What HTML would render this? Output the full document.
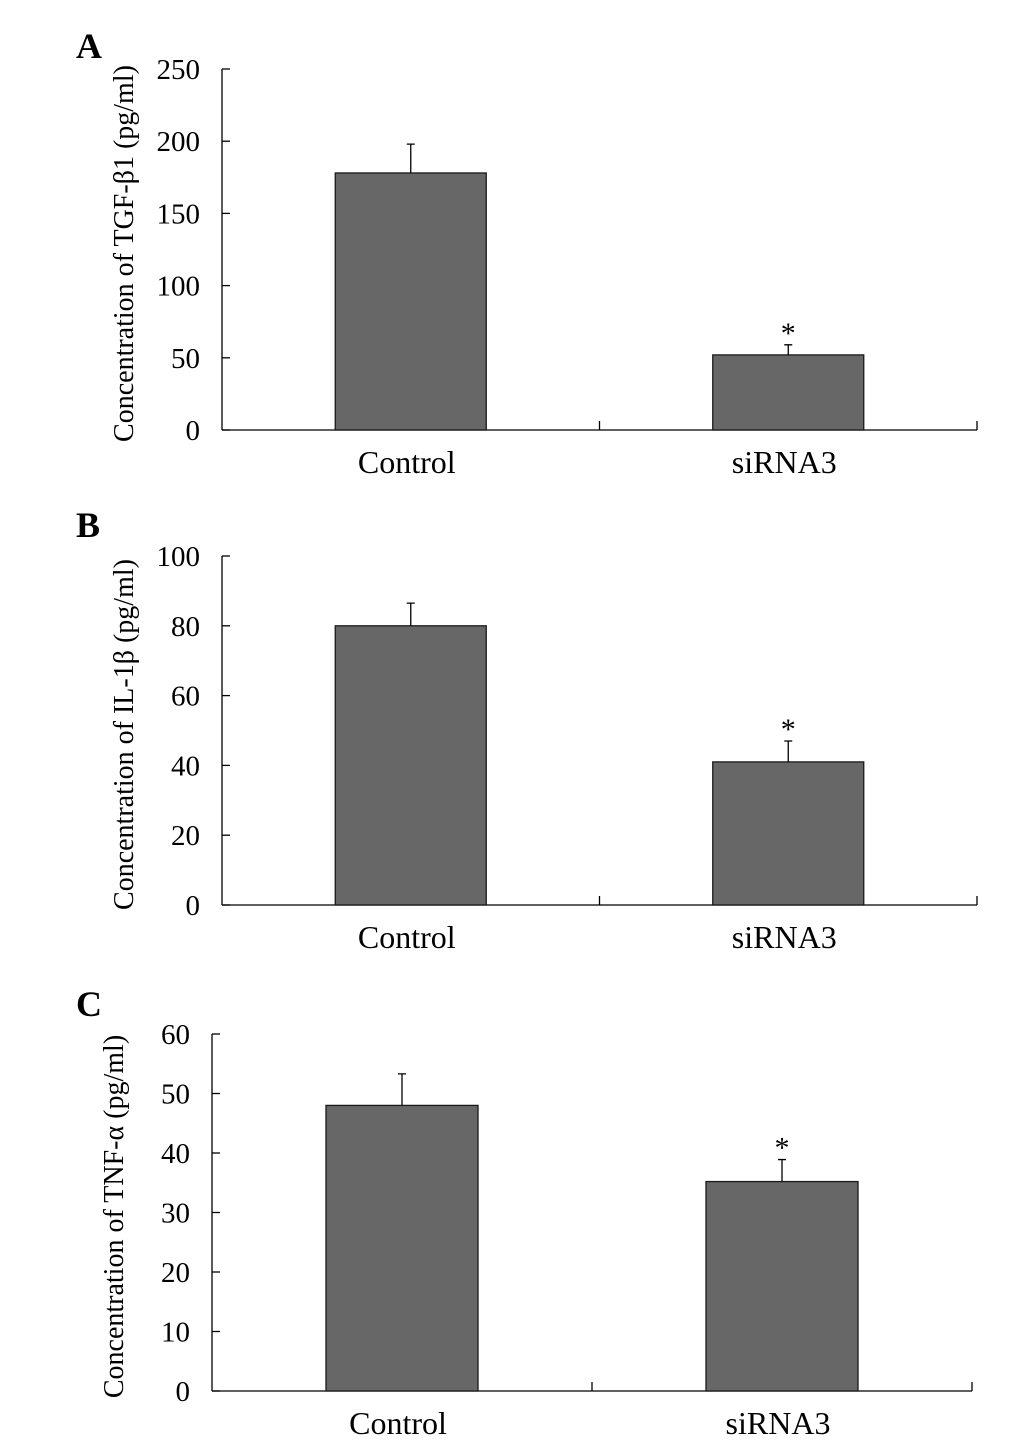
<!DOCTYPE html>
<html><head><meta charset="utf-8"><style>
html,body{margin:0;padding:0;background:#fff;}
svg{display:block;font-family:"Liberation Serif",serif;}
</style></head><body>
<svg id="chart" width="1033" height="1442" viewBox="0 0 1033 1442" xmlns="http://www.w3.org/2000/svg"></svg>
<script>
const categories = ["Control", "siRNA3"];
const valuesA = [178, 52];
const errorsA = [20, 7];
const valuesB = [80, 41];
const errorsB = [6.5, 6];
const valuesC = [48, 35.2];
const errorsC = [5.3, 3.7];
const ticksA = [0, 50, 100, 150, 200, 250];
const ticksB = [0, 20, 40, 60, 80, 100];
const ticksC = [0, 10, 20, 30, 40, 50, 60];
const sigA = [false, true];
const sigB = [false, true];
const sigC = [false, true];

const NS = "http://www.w3.org/2000/svg";
const svg = document.getElementById("chart");
function mk(tag, attrs, parent, text) {
  const e = document.createElementNS(NS, tag);
  for (const k in attrs) e.setAttribute(k, attrs[k]);
  if (text !== undefined) e.textContent = text;
  parent.appendChild(e);
  return e;
}

function panel(id, letter, title, vals, errs, ticks, sig, x0, x1, yTop, yBot, letterX, letterY) {
  const g = mk("g", {}, svg);
  
  
  const max = ticks[ticks.length - 1];
  const y = v => yBot - (v / max) * (yBot - yTop);
  const w = (x1 - x0) / categories.length;
  const L = mk("text", {x: letterX, y: letterY, "font-size": 36, "font-weight": "bold"}, g, letter);
  
  
  const ya = mk("line", {x1: x0, y1: yTop, x2: x0, y2: yBot, stroke: "#000", "stroke-width": 1.3}, g);
  
  
  ticks.forEach(t => {
    mk("line", {x1: x0, y1: y(t), x2: x0 + 8, y2: y(t), stroke: "#000", "stroke-width": 1.3}, g);
    const tl = mk("text", {x: x0 - 22, y: y(t) + 10, "font-size": 29, "text-anchor": "end"}, g, t);
    
    
  });
  const xa = mk("line", {x1: x0, y1: yBot, x2: x1, y2: yBot, stroke: "#000", "stroke-width": 1.3}, g);
  
  
  for (let i = 1; i <= categories.length; i++) {
    mk("line", {x1: x0 + i * w, y1: yBot, x2: x0 + i * w, y2: yBot - 9, stroke: "#000", "stroke-width": 1.3}, g);
  }
  const cy = (yTop + yBot) / 2 + 4;
  const yt = mk("text", {x: 0, y: 0, "font-size": 28, "text-anchor": "middle", transform: `translate(${x0 - 89},${cy}) rotate(-90)`}, g, title);
  
  
  categories.forEach((c, i) => {
    const cx = x0 + (i + 0.5) * w;
    const bw = w * 0.4;
    const b = mk("rect", {x: cx - bw / 2, y: y(vals[i]), width: bw, height: yBot - y(vals[i]), fill: "#676767", stroke: "#1a1a1a", "stroke-width": 1.3}, g);
    
    
    const et = y(vals[i] + errs[i]);
    const e = mk("path", {d: `M${cx},${y(vals[i])}V${et}M${cx - 4},${et}H${cx + 4}`, stroke: "#000", "stroke-width": 1.3, fill: "none"}, g);
    
    
    if (sig[i]) {
      const s = mk("text", {x: cx, y: et - 2, "font-size": 30, "text-anchor": "middle"}, g, "*");
      
      
    }
    const xl = mk("text", {x: cx - 4, y: yBot + 43, "font-size": 32, "text-anchor": "middle"}, g, c);
    
    
  });
}
panel("a", "A", "Concentration of TGF-β1 (pg/ml)", valuesA, errorsA, ticksA, sigA, 222, 977, 69, 430, 76, 58);
panel("b", "B", "Concentration of IL-1β (pg/ml)", valuesB, errorsB, ticksB, sigB, 222, 977, 556, 905, 76, 537);
panel("c", "C", "Concentration of TNF-α (pg/ml)", valuesC, errorsC, ticksC, sigC, 212, 972, 1034, 1391, 76, 1016);
</script>
</body></html>
